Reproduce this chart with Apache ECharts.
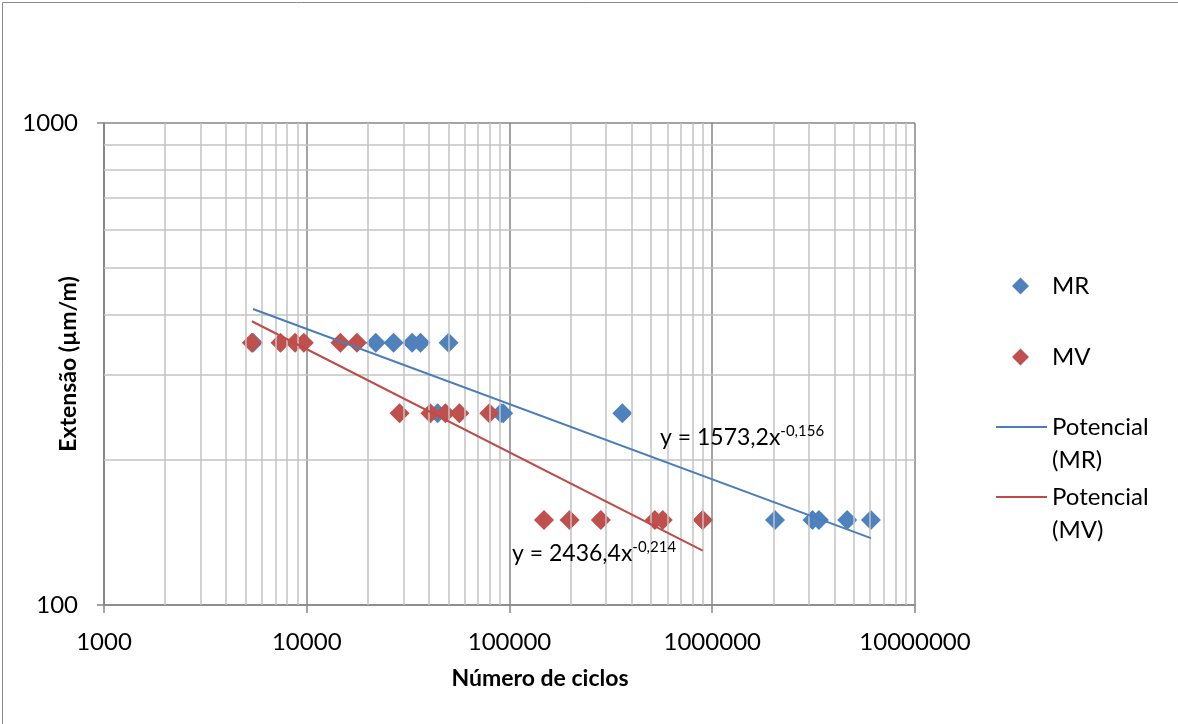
<!DOCTYPE html>
<html><head><meta charset="utf-8">
<script src="https://cdn.jsdelivr.net/npm/echarts@6/dist/echarts.min.js"></script>
<style>html,body{margin:0;padding:0;background:#fff}#c{width:1178px;height:724px}</style>
</head><body><div id="c"></div>
<script>
// ---- data ----
const mrCycles = [5430, 21900, 26800, 33100, 36400, 50100, 44200, 90700, 93100, 360000, 897000, 2040000, 3120000, 3360000, 4630000, 6060000];
const mrStrain = [350, 350, 350, 350, 350, 350, 250, 250, 250, 250, 150, 150, 150, 150, 150, 150];
const mvCycles = [5360, 7420, 8760, 9670, 14650, 17680, 28700, 40700, 48300, 56600, 79500, 148000, 198000, 282000, 521000, 570000, 897000];
const mvStrain = [350, 350, 350, 350, 350, 350, 250, 250, 250, 250, 250, 150, 150, 150, 150, 150, 150];
const mrTrendCoef = [1573.2, -0.156];
const mvTrendCoef = [2436.4, -0.214];
const mrEquation = ['y = 1573,2x', '-0,156'];
const mvEquation = ['y = 2436,4x', '-0,214'];
const xRange = [1000, 10000000];
const yRange = [100, 1000];
const xMinorGrid = [2000,3000,4000,5000,6000,7000,8000,9000,
  20000,30000,40000,50000,60000,70000,80000,90000,
  200000,300000,400000,500000,600000,700000,800000,900000,
  2000000,3000000,4000000,5000000,6000000,7000000,8000000,9000000];
const yMinorGrid = [200,300,400,500,600,700,800,900];
const names = ['MR', 'MV', 'Potencial (MR)', 'Potencial (MV)'];
const axisTitles = ['Número de ciclos', 'Extensão (µm/m)'];

// ---- build ----
const zip = (xs, ys) => xs.map((x, i) => [x, ys[i]]);
const trend = (xs, c) => {
  const lo = Math.min(...xs), hi = Math.max(...xs);
  return [[lo, c[0] * Math.pow(lo, c[1])], [hi, c[0] * Math.pow(hi, c[1])]];
};
const FONT = 'Lato';
const FS = 24;
const AX = '#868686';
const MINOR = '#c3c3c3';
const BLUE = '#4f81bd', RED = '#c0504d';
const BLUE_L = '#4a7ebb', RED_L = '#be4b48';

const lineLegend = (name, top) => ({
  data: [{name: name, icon: 'rect'}], orient: 'vertical', left: 996, top: top, padding: 0,
  itemWidth: 51, itemHeight: 2,
  formatter: n => ' \n' + n.replace(' ', '\n'),
  textStyle: {fontFamily: FONT, fontSize: FS, color: '#000', lineHeight: 33},
  selectedMode: false
});

const chart = echarts.init(document.getElementById('c'), null, {renderer: 'canvas'});
chart.setOption({
  animation: false,
  backgroundColor: '#fff',
  grid: {left: 104, top: 123, width: 811, height: 482, containLabel: false, outerBoundsMode: 'none'},
  xAxis: {
    type: 'log', logBase: 10, min: xRange[0], max: xRange[1],
    name: axisTitles[0], nameLocation: 'middle', nameGap: 62, nameMoveOverlap: false,
    nameTextStyle: {fontFamily: FONT, fontSize: 23, fontWeight: 'bold', color: '#000', padding: [0, 0, 0, 61]},
    axisLine: {show: true, lineStyle: {color: AX, width: 1.5}},
    axisTick: {show: true, inside: false, length: 8, lineStyle: {color: AX, width: 1.5}},
    axisLabel: {fontFamily: FONT, fontSize: FS, color: '#000', margin: 25, formatter: v => String(Math.round(v))},
    splitLine: {show: true, lineStyle: {color: AX, width: 1.5}},
    minorTick: {show: false}, minorSplitLine: {show: false}
  },
  yAxis: {
    type: 'log', logBase: 10, min: yRange[0], max: yRange[1],
    name: axisTitles[1], nameLocation: 'middle', nameRotate: 90, nameGap: 24, nameMoveOverlap: false,
    nameTextStyle: {fontFamily: FONT, fontSize: 23, fontWeight: 'bold', color: '#000'},
    axisLine: {show: true, lineStyle: {color: AX, width: 1.5}},
    axisTick: {show: true, inside: false, length: 7, lineStyle: {color: AX, width: 1.5}},
    axisLabel: {fontFamily: FONT, fontSize: FS, color: '#000', margin: 26, formatter: v => String(Math.round(v))},
    splitLine: {show: true, lineStyle: {color: AX, width: 1.5}}
  },
  legend: [
    {
      data: [names[0], names[1]], orient: 'vertical', left: 1012, top: 274, padding: 0,
      itemWidth: 17, itemHeight: 17, itemGap: 47, icon: 'diamond',
      itemStyle: {opacity: 1},
      textStyle: {fontFamily: FONT, fontSize: FS, color: '#000', lineHeight: 17, padding: [0, 0, 0, 18]},
      selectedMode: false
    },
    lineLegend(names[2], 377.5),
    lineLegend(names[3], 447.5)
  ],
  series: [
    {
      name: 'minorGrid', type: 'scatter', data: [], z: 1, silent: true,
      markLine: {
        silent: true, symbol: 'none', label: {show: false}, animation: false,
        lineStyle: {color: MINOR, width: 1.5, type: 'solid'},
        emphasis: {disabled: true},
        data: xMinorGrid.map(v => ({xAxis: v})).concat(yMinorGrid.map(v => ({yAxis: v})))
      }
    },
    {name: names[0], type: 'scatter', symbol: 'diamond', symbolSize: 20, z: 3,
     itemStyle: {color: BLUE, opacity: 1}, data: zip(mrCycles, mrStrain)},
    {name: names[1], type: 'scatter', symbol: 'diamond', symbolSize: 20, z: 4,
     itemStyle: {color: RED, opacity: 1}, data: zip(mvCycles, mvStrain)},
    {name: names[2], type: 'line', showSymbol: false, symbol: 'none', z: 5,
     lineStyle: {color: BLUE_L, width: 2}, itemStyle: {color: BLUE_L},
     data: trend(mrCycles, mrTrendCoef)},
    {name: names[3], type: 'line', showSymbol: false, symbol: 'none', z: 5,
     lineStyle: {color: RED_L, width: 2}, itemStyle: {color: RED_L},
     data: trend(mvCycles, mvTrendCoef)}
  ],
  graphic: [
    {type: 'rect', left: 0, top: 0, z: -10, silent: true,
     shape: {x: 0.5, y: 0.5, width: 1177, height: 723},
     style: {fill: 'none', stroke: '#8a8a8a', lineWidth: 1}},
    {type: 'text', left: 660, top: 424, z: 20, silent: true,
     style: {text: '{n|' + mrEquation[0] + '}{s|' + mrEquation[1] + '}',
       rich: {n: {fontFamily: FONT, fontSize: 23, fill: '#000', lineHeight: 28},
              s: {fontFamily: FONT, fontSize: 15, fill: '#000', lineHeight: 18, verticalAlign: 'top'}}}},
    {type: 'text', left: 512, top: 540, z: 20, silent: true,
     style: {text: '{n|' + mvEquation[0] + '}{s|' + mvEquation[1] + '}',
       rich: {n: {fontFamily: FONT, fontSize: 23, fill: '#000', lineHeight: 28},
              s: {fontFamily: FONT, fontSize: 15, fill: '#000', lineHeight: 18, verticalAlign: 'top'}}}}
  ]
});
</script></body></html>
